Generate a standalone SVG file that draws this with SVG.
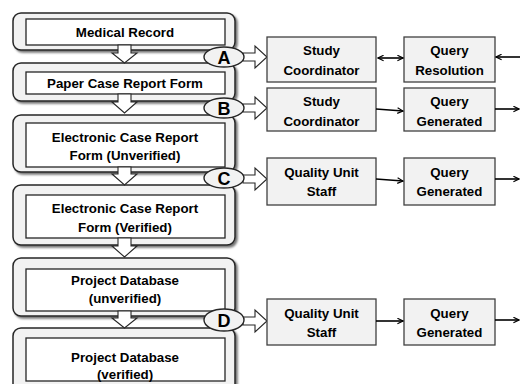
<svg xmlns="http://www.w3.org/2000/svg" width="520" height="384" viewBox="0 0 520 384">
<defs>
<filter id="sh" x="-10%" y="-10%" width="130%" height="140%">
<feDropShadow dx="2" dy="2" stdDeviation="1.2" flood-color="#000" flood-opacity="0.55"/>
</filter>
<marker id="ah" viewBox="0 0 10 10" refX="9" refY="5" markerWidth="7" markerHeight="7" orient="auto-start-reverse" markerUnits="userSpaceOnUse">
<path d="M1,1 L9,5 L1,9" fill="none" stroke="#000" stroke-width="1.6"/>
</marker>
</defs>
<style>
.outer{fill:#f2f2f2;stroke:#262626;stroke-width:1.5;filter:url(#sh)}
.inner{fill:#fff;stroke:#262626;stroke-width:1.3}
.side{fill:#f2f2f2;stroke:#404040;stroke-width:1.3}
.t{font-family:"Liberation Sans",Arial,sans-serif;font-weight:bold;font-size:13.3px;fill:#000;text-anchor:middle}
.lt{font-family:"Liberation Sans",Arial,sans-serif;font-weight:bold;font-size:18px;fill:#000;text-anchor:middle}
.blk{fill:#fff;stroke:#262626;stroke-width:1.1}
.ell{fill:#f2f2f2;stroke:#262626;stroke-width:1.4}
.con{fill:none;stroke:#000;stroke-width:1.6}
</style>
<rect width="520" height="384" fill="#fff"/>

<g id="medical-record">
<rect class="outer" x="13" y="13" width="222" height="37" rx="8"/>
<rect class="inner" x="26" y="19" width="199" height="26"/>
<text class="t" x="125" y="37">Medical Record</text>
</g>
<g id="paper-crf">
<rect class="outer" x="13" y="63" width="222" height="38" rx="8"/>
<rect class="inner" x="26" y="72" width="199" height="22"/>
<text class="t" x="125" y="88">Paper Case Report Form</text>
</g>
<g id="ecrf-unverified">
<rect class="outer" x="13" y="115" width="222" height="57" rx="8"/>
<rect class="inner" x="26" y="123" width="199" height="44"/>
<text class="t" x="125" y="142">Electronic Case Report</text>
<text class="t" x="125" y="160">Form (Unverified)</text>
</g>
<g id="ecrf-verified">
<rect class="outer" x="13" y="185" width="222" height="60" rx="8"/>
<rect class="inner" x="26" y="195" width="199" height="43"/>
<text class="t" x="125" y="213">Electronic Case Report</text>
<text class="t" x="125" y="232">Form (Verified)</text>
</g>
<g id="db-unverified">
<rect class="outer" x="13" y="258" width="222" height="58" rx="8"/>
<rect class="inner" x="26" y="269" width="199" height="42"/>
<text class="t" x="125" y="285">Project Database</text>
<text class="t" x="125" y="303">(unverified)</text>
</g>
<g id="db-verified">
<rect class="outer" x="13" y="328" width="222" height="70" rx="8"/>
<rect class="inner" x="26" y="338" width="199" height="43"/>
<text class="t" x="125" y="362">Project Database</text>
<text class="t" x="125" y="379">(verified)</text>
</g>

<g id="flow-arrows">
<path class="blk" d="M118,45 V53 H112 L124.5,63 L137,53 H131 V45 Z"/>
<path class="blk" d="M118,94 V102 H112 L124.5,113 L137,102 H131 V94 Z"/>
<path class="blk" d="M118,167 V174 H112 L124.5,185 L137,174 H131 V167 Z"/>
<path class="blk" d="M118,238 V246 H112 L124.5,257 L137,246 H131 V238 Z"/>
<path class="blk" d="M118,311 V318 H112 L124.5,328 L137,318 H131 V311 Z"/>
</g>

<g id="branch-arrows">
<path class="blk" d="M243,53 H255 V46 L267,57 L255,68 V61 H243 Z"/>
<path class="blk" d="M243,104 H255 V97 L267,108 L255,119 V112 H243 Z"/>
<path class="blk" d="M243,175 H255 V168 L267,179 L255,190 V183 H243 Z"/>
<path class="blk" d="M243,317 H255 V310 L267,321 L255,332 V325 H243 Z"/>
</g>

<g id="marker-a">
<ellipse class="ell" cx="224" cy="57" rx="20" ry="10"/>
<text class="lt" x="224" y="64">A</text>
</g>
<g id="marker-b">
<ellipse class="ell" cx="224" cy="108" rx="20" ry="10"/>
<text class="lt" x="224" y="115">B</text>
</g>
<g id="marker-c">
<ellipse class="ell" cx="224" cy="178" rx="20" ry="10"/>
<text class="lt" x="224" y="185">C</text>
</g>
<g id="marker-d">
<ellipse class="ell" cx="224" cy="320" rx="20" ry="11"/>
<text class="lt" x="224" y="327">D</text>
</g>

<g id="study-coordinator-1">
<rect class="side" x="267" y="37" width="109" height="45"/>
<text class="t" x="321.5" y="55">Study</text>
<text class="t" x="321.5" y="75">Coordinator</text>
</g>
<g id="query-resolution">
<rect class="side" x="404" y="37" width="91" height="45"/>
<text class="t" x="449.5" y="55">Query</text>
<text class="t" x="449.5" y="75">Resolution</text>
</g>
<g id="study-coordinator-2">
<rect class="side" x="267" y="88" width="109" height="43"/>
<text class="t" x="321.5" y="106">Study</text>
<text class="t" x="321.5" y="126">Coordinator</text>
</g>
<g id="query-generated-1">
<rect class="side" x="404" y="88" width="91" height="43"/>
<text class="t" x="449.5" y="106">Query</text>
<text class="t" x="449.5" y="126">Generated</text>
</g>
<g id="quality-unit-1">
<rect class="side" x="267" y="158" width="109" height="47"/>
<text class="t" x="321.5" y="177">Quality Unit</text>
<text class="t" x="321.5" y="196">Staff</text>
</g>
<g id="query-generated-2">
<rect class="side" x="404" y="158" width="91" height="47"/>
<text class="t" x="449.5" y="177">Query</text>
<text class="t" x="449.5" y="196">Generated</text>
</g>
<g id="quality-unit-2">
<rect class="side" x="267" y="299" width="109" height="46"/>
<text class="t" x="321.5" y="318">Quality Unit</text>
<text class="t" x="321.5" y="337">Staff</text>
</g>
<g id="query-generated-3">
<rect class="side" x="404" y="299" width="91" height="46"/>
<text class="t" x="449.5" y="318">Query</text>
<text class="t" x="449.5" y="337">Generated</text>
</g>

<g id="connectors">
<line class="con" x1="378" y1="58" x2="403" y2="58" marker-start="url(#ah)" marker-end="url(#ah)"/>
<line class="con" x1="520" y1="57" x2="496" y2="57" marker-end="url(#ah)"/>
<line class="con" x1="376" y1="109" x2="403" y2="111" marker-end="url(#ah)"/>
<line class="con" x1="495" y1="109" x2="519" y2="109" marker-end="url(#ah)"/>
<line class="con" x1="376" y1="179" x2="403" y2="181" marker-end="url(#ah)"/>
<line class="con" x1="495" y1="179" x2="519" y2="179" marker-end="url(#ah)"/>
<line class="con" x1="376" y1="321" x2="403" y2="321" marker-end="url(#ah)"/>
<line class="con" x1="495" y1="320" x2="519" y2="320" marker-end="url(#ah)"/>
</g>
</svg>
